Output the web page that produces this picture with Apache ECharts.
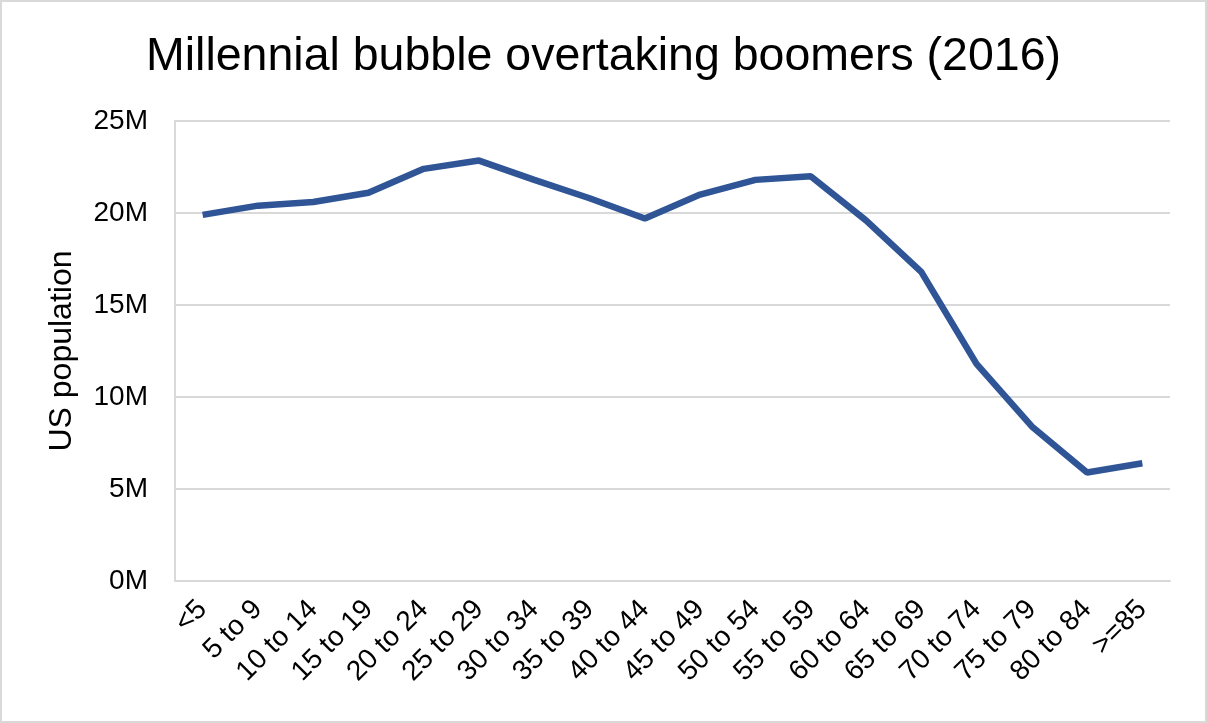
<!DOCTYPE html>
<html><head><meta charset="utf-8">
<script src="https://cdn.jsdelivr.net/npm/echarts@6/dist/echarts.min.js"></script>
<style>html,body{margin:0;padding:0;background:#fff}#c{width:1207px;height:723px;box-sizing:border-box;border:2px solid #d9d9d9}</style>
</head><body><div id="c"></div>
<script>
const categories = ['<5','5 to 9','10 to 14','15 to 19','20 to 24','25 to 29','30 to 34','35 to 39','40 to 44','45 to 49','50 to 54','55 to 59','60 to 64','65 to 69','70 to 74','75 to 79','80 to 84','>=85'];
const population = [19.9,20.4,20.6,21.1,22.4,22.85,21.8,20.8,19.7,21.0,21.8,22.0,19.6,16.8,11.8,8.4,5.9,6.4];
const chart = echarts.init(document.getElementById('c'));
const F = 'Liberation Sans, Arial, sans-serif';
chart.setOption({
  animation:false,
  title:{text:'Millennial bubble overtaking boomers (2016)',left:'center',top:27,textStyle:{fontFamily:F,fontSize:46.5,fontWeight:'normal',color:'#000'}},
  grid:{left:173,top:119,right:35,bottom:140},
  xAxis:{type:'category',data:categories,boundaryGap:true,
    axisLine:{lineStyle:{color:'#d9d9d9',width:2}},axisTick:{show:false},
    axisLabel:{rotate:45,interval:0,fontFamily:F,fontSize:28,color:'#000',margin:24}},
  yAxis:{type:'value',min:0,max:25,interval:5,name:'US population',nameLocation:'middle',nameGap:97,
    nameTextStyle:{fontFamily:F,fontSize:32,color:'#000'},
    axisLine:{show:true,lineStyle:{color:'#d9d9d9',width:2}},axisTick:{show:false},
    splitLine:{lineStyle:{color:'#d9d9d9',width:2}},
    axisLabel:{formatter:v=>v+'M',fontFamily:F,fontSize:28,color:'#000',margin:27}},
  series:[{type:'line',data:population,showSymbol:false,lineStyle:{color:'#2F5597',width:6.5},itemStyle:{color:'#2F5597'}}]
});
</script></body></html>
